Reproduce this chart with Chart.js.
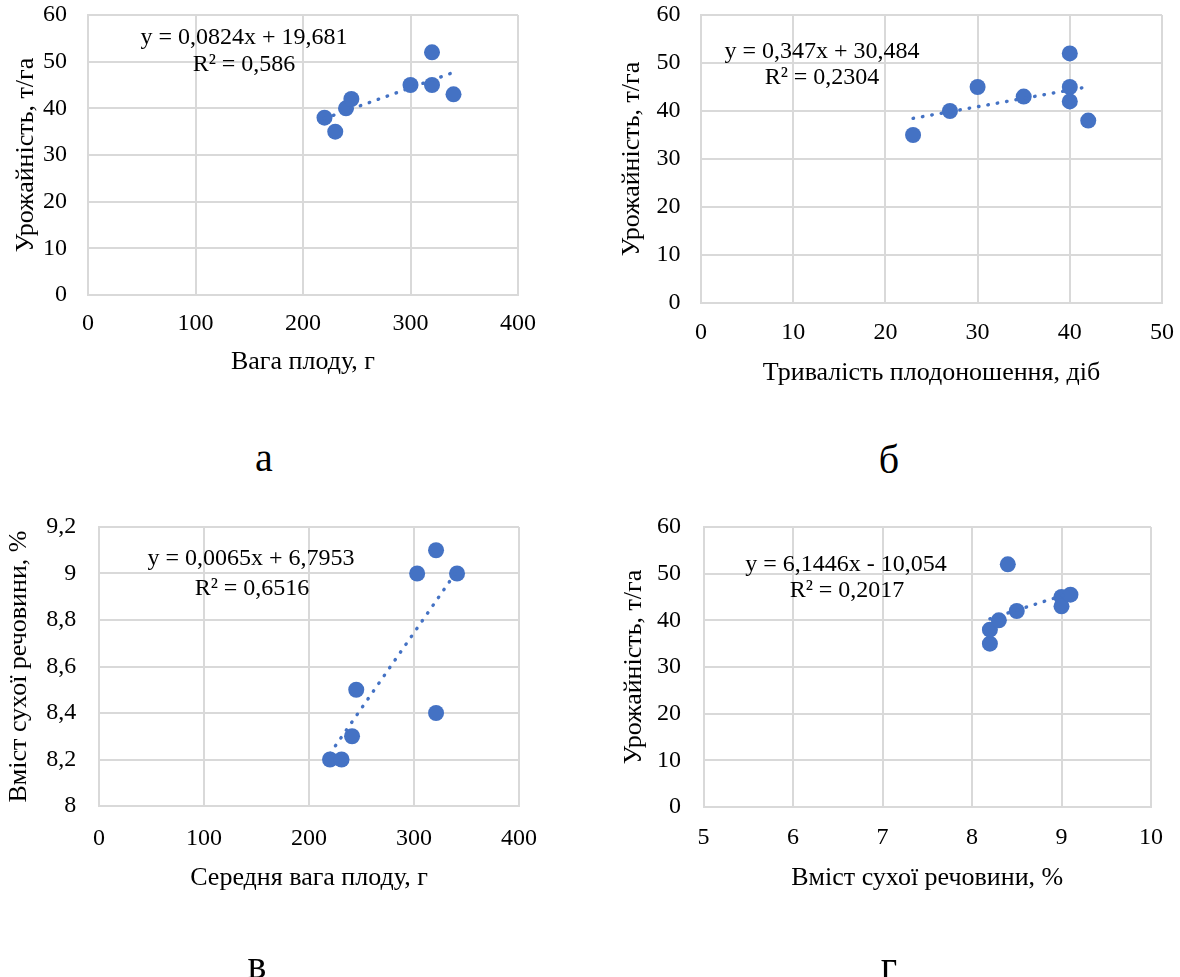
<!DOCTYPE html>
<html>
<head>
<meta charset="utf-8">
<script src="https://cdn.jsdelivr.net/npm/chart.js@4"></script>
<style>
  html, body { margin: 0; padding: 0; background: #fff; }
  body { width: 1180px; height: 977px; position: relative; overflow: hidden; font-family: 'Liberation Serif', 'Times New Roman', serif; }
  canvas { position: absolute; }
  .letter { position: absolute; font-size: 40px; line-height: 40px; transform: translateX(-50%); color: #000; }
</style>
</head>
<body>
<canvas id="chA" width="590" height="420" style="left:0;top:0"></canvas>
<canvas id="chB" width="590" height="420" style="left:590px;top:0"></canvas>
<canvas id="chV" width="590" height="477" style="left:0;top:500px"></canvas>
<canvas id="chG" width="590" height="477" style="left:590px;top:500px"></canvas>
<div class="letter" style="left:264px;top:438px">а</div>
<div class="letter" style="left:889px;top:440px">б</div>
<div class="letter" style="left:257px;top:945px">в</div>
<div class="letter" style="left:889px;top:946px">г</div>
<script>
// а: урожайність vs вага плоду
const fruitWeight = [220, 230, 240, 245, 300, 320, 320, 340];
const yieldA = [38, 35, 40, 42, 45, 52, 45, 43];
// б: урожайність vs тривалість плодоношення
const fruitingDays = [23, 27, 30, 35, 40, 40, 40, 42];
const yieldB = [35, 40, 45, 43, 52, 45, 42, 38];
// в: вміст сухої речовини vs середня вага плоду
const avgWeight = [220, 231, 241, 245, 303, 321, 321, 341];
const dryMatterV = [8.2, 8.2, 8.3, 8.5, 9.0, 9.1, 8.4, 9.0];
// г: урожайність vs вміст сухої речовини
const dryMatterG = [8.2, 8.2, 8.3, 8.5, 8.4, 9.0, 9.0, 9.1];
const yieldG = [35, 38, 40, 42, 52, 45, 43, 45.5];

// trend lines: [slope, intercept, R²]
const trendA = [0.0824, 19.681, 0.586];
const trendB = [0.347, 30.484, 0.2304];
const trendV = [0.0065, 6.7953, 0.6516];
const trendG = [6.1446, -10.054, 0.2017];

// axis ranges: [min, max, step]
const xRangeA = [0, 400, 100], yRangeA = [0, 60, 10];
const xRangeB = [0, 50, 10], yRangeB = [0, 60, 10];
const xRangeV = [0, 400, 100], yRangeV = [8, 9.2, 0.2];
const xRangeG = [5, 10, 1], yRangeG = [0, 60, 10];

const blue = '#4472C4';
const gridColor = '#d9d9d9';
const serif = 'Liberation Serif';
const fmt = v => String(Math.round(v * 10000) / 10000).replace('.', ',');

const eqLabel = {
  id: 'eqLabel',
  afterDatasetsDraw(chart, args, o) {
    const ctx = chart.ctx;
    ctx.save();
    ctx.font = '24px "' + serif + '"';
    ctx.fillStyle = '#000';
    ctx.textAlign = 'center';
    ctx.textBaseline = 'middle';
    o.lines.forEach(l => ctx.fillText(l.text, l.x, l.y));
    ctx.restore();
  }
};

function scatterChart(id, g) {
  const [slope, icpt, r2] = g.trend;
  const x0 = Math.min(...g.x), x1 = Math.max(...g.x);
  const eq1 = 'y = ' + fmt(slope) + 'x ' + (icpt < 0 ? '- ' : '+ ') + fmt(Math.abs(icpt));
  const eq2 = 'R² = ' + fmt(r2);
  return new Chart(document.getElementById(id), {
    type: 'scatter',
    data: {
      datasets: [
        {
          type: 'line',
          data: [{x: x0, y: slope * x0 + icpt}, {x: x1, y: slope * x1 + icpt}],
          borderColor: blue,
          borderWidth: 3.4,
          borderDash: [0.5, 9],
          borderCapStyle: 'round',
          pointRadius: 0,
          fill: false,
          order: 0,
        },
        {
          data: g.x.map((v, i) => ({x: v, y: g.y[i]})),
          backgroundColor: blue,
          borderWidth: 0,
          pointRadius: 8,
          order: 1,
        },
      ],
    },
    options: {
      responsive: false,
      animation: false,
      layout: { padding: g.pad, autoPadding: false },
      plugins: {
        legend: { display: false },
        tooltip: { enabled: false },
        eqLabel: { lines: [{text: eq1, x: g.eq[0], y: g.eq[1]}, {text: eq2, x: g.eq[2], y: g.eq[3]}] },
      },
      scales: {
        x: {
          type: 'linear',
          min: g.xr[0], max: g.xr[1],
          ticks: { stepSize: g.xr[2], padding: g.xTickPad, color: '#000', font: {family: serif, size: 24}, callback: v => fmt(v) },
          grid: { color: gridColor, lineWidth: 2, drawTicks: false },
          border: { color: gridColor, width: 2 },
          title: { display: true, text: g.xTitle, color: '#000', font: {family: serif, size: 26}, padding: {top: 0, bottom: g.xTitlePad} },
          afterFit: s => { s.height = g.xh; s.paddingLeft = 0; s.paddingRight = 0; },
        },
        y: {
          min: g.yr[0], max: g.yr[1],
          ticks: { stepSize: g.yr[2], padding: g.yTickPad, color: '#000', font: {family: serif, size: 24}, callback: v => fmt(v) },
          grid: { color: gridColor, lineWidth: 2, drawTicks: false },
          border: { color: gridColor, width: 2 },
          title: { display: true, text: g.yTitle, color: '#000', font: {family: serif, size: 26}, padding: {top: g.yTitlePad, bottom: 0} },
          afterFit: s => { s.width = g.yw; s.paddingTop = 0; s.paddingBottom = 0; },
        },
      },
    },
    plugins: [eqLabel],
  });
}

scatterChart('chA', {
  x: fruitWeight, y: yieldA, trend: trendA, xr: xRangeA, yr: yRangeA,
  xTitle: 'Вага плоду, г', yTitle: 'Урожайність, т/га',
  pad: {top: 15, right: 72, left: 0, bottom: 0}, yw: 88, xh: 125,
  yTitlePad: 10.4, yTickPad: 21, xTickPad: 14, xTitlePad: 42,
  eq: [244, 38, 244, 65],
});
scatterChart('chB', {
  x: fruitingDays, y: yieldB, trend: trendB, xr: xRangeB, yr: yRangeB,
  xTitle: 'Тривалість плодоношення, діб', yTitle: 'Урожайність, т/га',
  pad: {top: 15, right: 18, left: 0, bottom: 0}, yw: 111, xh: 117,
  yTitlePad: 26.9, yTickPad: 20.6, xTickPad: 15, xTitlePad: 31,
  eq: [232, 52, 232, 78],
});
scatterChart('chV', {
  x: avgWeight, y: dryMatterV, trend: trendV, xr: xRangeV, yr: yRangeV,
  xTitle: 'Середня вага плоду, г', yTitle: 'Вміст сухої речовини, %',
  pad: {top: 27, right: 71, left: 0, bottom: 0}, yw: 99, xh: 171,
  yTitlePad: 3.9, yTickPad: 22.7, xTickPad: 18, xTitlePad: 83,
  eq: [251, 59, 252, 89],
});
scatterChart('chG', {
  x: dryMatterG, y: yieldG, trend: trendG, xr: xRangeG, yr: yRangeG,
  xTitle: 'Вміст сухої речовини, %', yTitle: 'Урожайність, т/га',
  pad: {top: 27, right: 29, left: 0, bottom: 0}, yw: 113.5, xh: 170,
  yTitlePad: 28.4, yTickPad: 22.5, xTickPad: 16, xTitlePad: 83,
  eq: [256, 65, 257, 91],
});
</script>
</body>
</html>
